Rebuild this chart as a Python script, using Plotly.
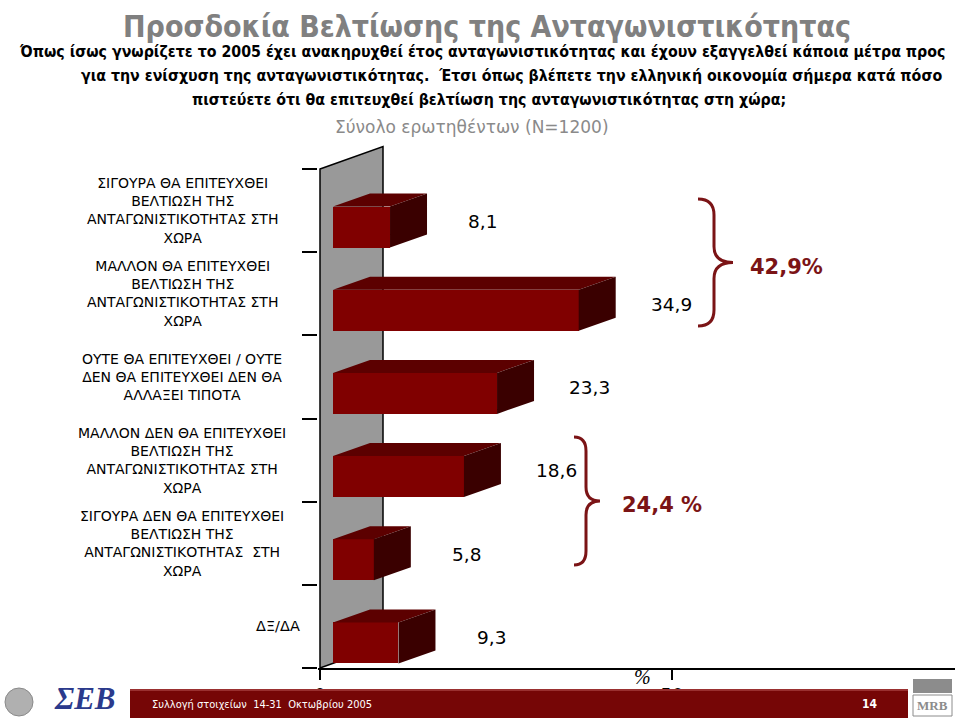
import plotly.graph_objects as go

# ---------------- data ----------------
categories = [
    "ΣΙΓΟΥΡΑ ΘΑ ΕΠΙΤΕΥΧΘΕΙ<br>ΒΕΛΤΙΩΣΗ ΤΗΣ<br>ΑΝΤΑΓΩΝΙΣΤΙΚΟΤΗΤΑΣ ΣΤΗ<br>ΧΩΡΑ",
    "ΜΑΛΛΟΝ ΘΑ ΕΠΙΤΕΥΧΘΕΙ<br>ΒΕΛΤΙΩΣΗ ΤΗΣ<br>ΑΝΤΑΓΩΝΙΣΤΙΚΟΤΗΤΑΣ ΣΤΗ<br>ΧΩΡΑ",
    "ΟΥΤΕ ΘΑ ΕΠΙΤΕΥΧΘΕΙ / ΟΥΤΕ<br>ΔΕΝ ΘΑ ΕΠΙΤΕΥΧΘΕΙ ΔΕΝ ΘΑ<br>ΑΛΛΑΞΕΙ ΤΙΠΟΤΑ",
    "ΜΑΛΛΟΝ ΔΕΝ ΘΑ ΕΠΙΤΕΥΧΘΕΙ<br>ΒΕΛΤΙΩΣΗ ΤΗΣ<br>ΑΝΤΑΓΩΝΙΣΤΙΚΟΤΗΤΑΣ ΣΤΗ<br>ΧΩΡΑ",
    "ΣΙΓΟΥΡΑ ΔΕΝ ΘΑ ΕΠΙΤΕΥΧΘΕΙ<br>ΒΕΛΤΙΩΣΗ ΤΗΣ<br>ΑΝΤΑΓΩΝΙΣΤΙΚΟΤΗΤΑΣ  ΣΤΗ<br>ΧΩΡΑ",
    "ΔΞ/ΔΑ",
]
values = [8.1, 34.9, 23.3, 18.6, 5.8, 9.3]
value_labels = ["8,1", "34,9", "23,3", "18,6", "5,8", "9,3"]
x_tick_vals = [0, 50]
x_tick_text = ["0", "50"]
group_totals = ["42,9%", "24,4 %"]

title = "Προσδοκία Βελτίωσης της Ανταγωνιστικότητας"
question_lines = [
    "Όπως ίσως γνωρίζετε το 2005 έχει ανακηρυχθεί έτος ανταγωνιστικότητας και έχουν εξαγγελθεί κάποια μέτρα προς",
    "για την ενίσχυση της ανταγωνιστικότητας.  Έτσι όπως βλέπετε την ελληνική οικονομία σήμερα κατά πόσο",
    "πιστεύετε ότι θα επιτευχθεί βελτίωση της ανταγωνιστικότητας στη χώρα;",
]
base_note = "Σύνολο ερωτηθέντων (Ν=1200)"
footer_text = "Συλλογή στοιχείων  14-31  Οκτωβρίου 2005"
page_no = "14"

# ---------------- geometry ----------------
W, H = 960, 718
L, R, T, B = 318, 5, 140, 50
PW, PH = W - L - R, H - T - B
XPX = 7.04                      # px per x unit
YPX = (668 - 169) / 6.0         # px per category
x_min = -(320 - L) / XPX
x_max = x_min + PW / XPX
y_top = -0.5 - (169 - T) / YPX
y_bot = 5.5


def px(X):
    return (X - L) / PW


def py(Y):
    return (H - B - Y) / PH


base0 = 13 / XPX
ddx = 37 / XPX
ddy = 13 / YPX
f_top = -4 / YPX
f_bot = 37 / YPX

FRONT = "#800000"
TOP = "#5c0000"
SIDE = "#3a0000"
RED_TXT = "#7b1416"

n = len(values)
ys = list(range(n))

fig = go.Figure()

# front faces
fig.add_trace(go.Bar(
    y=[i + (f_top + f_bot) / 2 for i in ys], x=values, base=base0,
    orientation="h", width=f_bot - f_top,
    marker=dict(color=FRONT, line=dict(width=0)),
    hoverinfo="skip", showlegend=False,
))

# top faces and side faces
tx, ty, sx, sy = [], [], [], []
for i, v in zip(ys, values):
    x0, x1 = base0, base0 + v
    yt, yb = i + f_top, i + f_bot
    tx += [x0, x1, x1 + ddx, x0 + ddx, x0, None]
    ty += [yt, yt, yt - ddy, yt - ddy, yt, None]
    sx += [x1, x1 + ddx, x1 + ddx, x1, x1, None]
    sy += [yt, yt - ddy, yb - ddy, yb, yt, None]
fig.add_trace(go.Scatter(x=tx, y=ty, fill="toself", fillcolor=TOP, mode="lines",
                         line=dict(width=0, color=TOP), hoverinfo="skip", showlegend=False))
fig.add_trace(go.Scatter(x=sx, y=sy, fill="toself", fillcolor=SIDE, mode="lines",
                         line=dict(width=0, color=SIDE), hoverinfo="skip", showlegend=False))

shapes = []
# back wall
wdx = 63 / XPX
wdy = 22.5 / YPX
shapes.append(dict(
    type="path", xref="x", yref="y", layer="below",
    path=f"M 0,{-0.5} L {wdx},{-0.5 - wdy} L {wdx},{5.5 - wdy} L 0,{5.5} Z",
    fillcolor="#999999", line=dict(color="black", width=1.5),
))


def brace(x_end, x_mid, x_tip, y0, y1, r=16):
    ym = (y0 + y1) / 2
    pts = [
        f"M {px(x_end)},{py(y0)}",
        f"Q {px(x_mid)},{py(y0)} {px(x_mid)},{py(y0 + r)}",
        f"L {px(x_mid)},{py(ym - r)}",
        f"Q {px(x_mid)},{py(ym)} {px(x_tip)},{py(ym)}",
        f"Q {px(x_mid)},{py(ym)} {px(x_mid)},{py(ym + r)}",
        f"L {px(x_mid)},{py(y1 - r)}",
        f"Q {px(x_mid)},{py(y1)} {px(x_end)},{py(y1)}",
    ]
    return dict(type="path", xref="paper", yref="paper", path=" ".join(pts),
                line=dict(color=RED_TXT, width=3), layer="above")


shapes.append(brace(698, 714, 733, 199, 326))
shapes.append(brace(574, 586, 600, 437, 565, r=14))

# footer bar
shapes.append(dict(type="rect", xref="paper", yref="paper", layer="above",
                   x0=px(130), x1=px(908), y0=py(718), y1=py(689),
                   fillcolor="#760606", line=dict(width=0)))
shapes.append(dict(type="rect", xref="paper", yref="paper", layer="above",
                   x0=px(130), x1=px(908), y0=py(691), y1=py(689),
                   fillcolor="#9a3030", line=dict(width=0)))
# left logo coin
shapes.append(dict(type="circle", xref="paper", yref="paper", layer="above",
                   x0=px(5), x1=px(33), y0=py(716), y1=py(688),
                   fillcolor="#b0b0b0", line=dict(color="#8a8a8a", width=1)))
# MRB logo
shapes.append(dict(type="rect", xref="paper", yref="paper", layer="above",
                   x0=px(913), x1=px(952), y0=py(693), y1=py(679),
                   fillcolor="#8c8c8c", line=dict(width=0)))
shapes.append(dict(type="rect", xref="paper", yref="paper", layer="above",
                   x0=px(913), x1=px(952), y0=py(716), y1=py(695),
                   fillcolor="white", line=dict(color="#8c8c8c", width=1)))

ann = []
NARROW = "DejaVu Sans Condensed, Roboto, sans-serif"
VERD = "DejaVu Sans"

ann.append(dict(text=f"<b>{title}</b>", x=px(487), y=py(26), xref="paper", yref="paper",
                showarrow=False, xanchor="center", yanchor="middle",
                font=dict(family=NARROW, size=30, color="#808080")))
for (cx, cy), line in zip([(482, 51), (511, 75), (489, 99)], question_lines):
    ann.append(dict(text=f"<b>{line}</b>", x=px(cx), y=py(cy), xref="paper", yref="paper",
                    showarrow=False, xanchor="center", yanchor="middle",
                    font=dict(family=NARROW, size=15.8, color="black")))
ann.append(dict(text=base_note, x=px(472), y=py(127), xref="paper", yref="paper",
                showarrow=False, xanchor="center", yanchor="middle",
                font=dict(family=VERD, size=17, color="#8a8a8a")))

# category labels
for i, c in enumerate(categories):
    if i == n - 1:
        ann.append(dict(text=c, x=px(302), y=i, xref="paper", yref="y", showarrow=False,
                        xanchor="right", yanchor="middle",
                        font=dict(family=VERD, size=14.5, color="black")))
    else:
        ann.append(dict(text=c, x=px(182), y=i, xref="paper", yref="y", showarrow=False,
                        xanchor="center", yanchor="middle", align="center",
                        font=dict(family=VERD, size=14, color="black")))

# value labels
for i, (v, t) in enumerate(zip(values, value_labels)):
    ann.append(dict(text=t, x=v + 15, y=i + 0.13, xref="x", yref="y", showarrow=False,
                    xanchor="center", yanchor="middle",
                    font=dict(family=VERD, size=18.5, color="black")))

ann.append(dict(text=f"<b>{group_totals[0]}</b>", x=px(786), y=py(267), xref="paper", yref="paper",
                showarrow=False, xanchor="center", yanchor="middle",
                font=dict(family=VERD, size=21, color=RED_TXT)))
ann.append(dict(text=f"<b>{group_totals[1]}</b>", x=px(662), y=py(505), xref="paper", yref="paper",
                showarrow=False, xanchor="center", yanchor="middle",
                font=dict(family=VERD, size=21, color=RED_TXT)))

ann.append(dict(text="<i>%</i>", x=px(642), y=py(677), xref="paper", yref="paper",
                showarrow=False, xanchor="center", yanchor="middle",
                font=dict(family="Liberation Serif", size=20, color="black")))

# footer texts
ann.append(dict(text=footer_text, x=px(150), y=py(704), xref="paper", yref="paper",
                showarrow=False, xanchor="left", yanchor="middle",
                font=dict(family=NARROW, size=11, color="white")))
ann.append(dict(text=f"<b>{page_no}</b>", x=px(870), y=py(704), xref="paper", yref="paper",
                showarrow=False, xanchor="center", yanchor="middle",
                font=dict(family=NARROW, size=12, color="white")))
ann.append(dict(text="<b><i>ΣΕΒ</i></b>", x=px(85), y=py(698), xref="paper", yref="paper",
                showarrow=False, xanchor="center", yanchor="middle", borderpad=0,
                font=dict(family="Liberation Serif", size=31, color="#2b3a8c")))
ann.append(dict(text="<b>MRB</b>", x=px(932.5), y=py(705.5), xref="paper", yref="paper",
                showarrow=False, xanchor="center", yanchor="middle",
                font=dict(family="Liberation Serif", size=13, color="#8c8c8c")))

fig.update_layout(
    width=W, height=H,
    margin=dict(l=L, r=R, t=T, b=B, pad=0),
    paper_bgcolor="white", plot_bgcolor="rgba(0,0,0,0)",
    showlegend=False,
    bargap=0,
    shapes=shapes,
    annotations=ann,
    xaxis=dict(range=[x_min, x_max], tickvals=x_tick_vals, ticktext=x_tick_text,
               ticks="outside", ticklen=10, tickcolor="black", tickwidth=1.5,
               showline=True, linecolor="black", linewidth=1.5,
               showgrid=False, zeroline=False, fixedrange=True,
               tickfont=dict(family=VERD, size=18, color="black")),
    yaxis=dict(range=[y_bot, y_top], tickvals=[k - 0.5 for k in range(n + 1)],
               ticktext=[""] * (n + 1), ticks="outside", ticklen=15,
               tickcolor="black", tickwidth=1.5, showline=False,
               showgrid=False, zeroline=False, fixedrange=True),
)

fig.write_html("out.html", config={"displayModeBar": False},
               post_script="document.body.style.margin='0px';document.body.style.overflow='hidden';")
